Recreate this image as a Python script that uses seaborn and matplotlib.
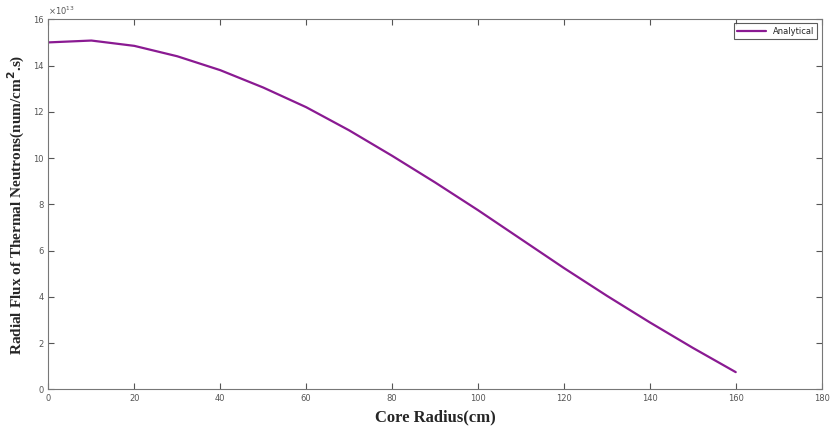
import numpy as np
import pandas as pd
import seaborn as sns
import matplotlib.pyplot as plt

# Data (flux in units of 1e13)
radius = [0, 10, 20, 30, 40, 50, 60, 70, 80, 90, 100, 110, 120, 130, 140, 150, 160]
flux = [15.0, 15.08, 14.85, 14.4, 13.8, 13.05, 12.2, 11.2, 10.1, 8.95, 7.75,
        6.5, 5.25, 4.05, 2.9, 1.8, 0.75]

df = pd.DataFrame({'Core Radius': radius, 'Flux': flux, 'series': 'Analytical'})

sns.set_style('ticks')
plt.rcParams['font.family'] = ['DejaVu Sans']

fig, ax = plt.subplots(figsize=(8.35, 4.28), dpi=100)
sns.lineplot(data=df, x='Core Radius', y='Flux', hue='series',
             palette=['#8a1a92'], linewidth=1.6, ax=ax)

ax.set_xlim(0, 180)
ax.set_ylim(0, 16)
ax.set_xticks(np.arange(0, 181, 20))
ax.set_yticks(np.arange(0, 17, 2))
ax.tick_params(direction='in', labelsize=6, colors='#555555', length=4,
               top=True, right=True)
for s in ax.spines.values():
    s.set_color('#777777')
    s.set_linewidth(0.8)

ax.set_xlabel('Core Radius(cm)', family='Liberation Serif', weight='bold', fontsize=12)
ax.set_ylabel('Radial Flux of Thermal Neutrons(num/cm$^{\\mathbf{2}}$.s)',
              family='Liberation Serif', weight='bold', fontsize=11)
ax.text(0.0, 1.005, r'$\times10^{13}$', transform=ax.transAxes, fontsize=6,
        color='#555555', ha='left', va='bottom')

leg = ax.legend(loc='upper right', fontsize=6, frameon=True, fancybox=False,
                edgecolor='#333333', handlelength=3.5)
leg.get_frame().set_linewidth(0.8)

fig.subplots_adjust(left=0.058, right=0.984, top=0.955, bottom=0.09)
fig.savefig('out.png', dpi=100)
